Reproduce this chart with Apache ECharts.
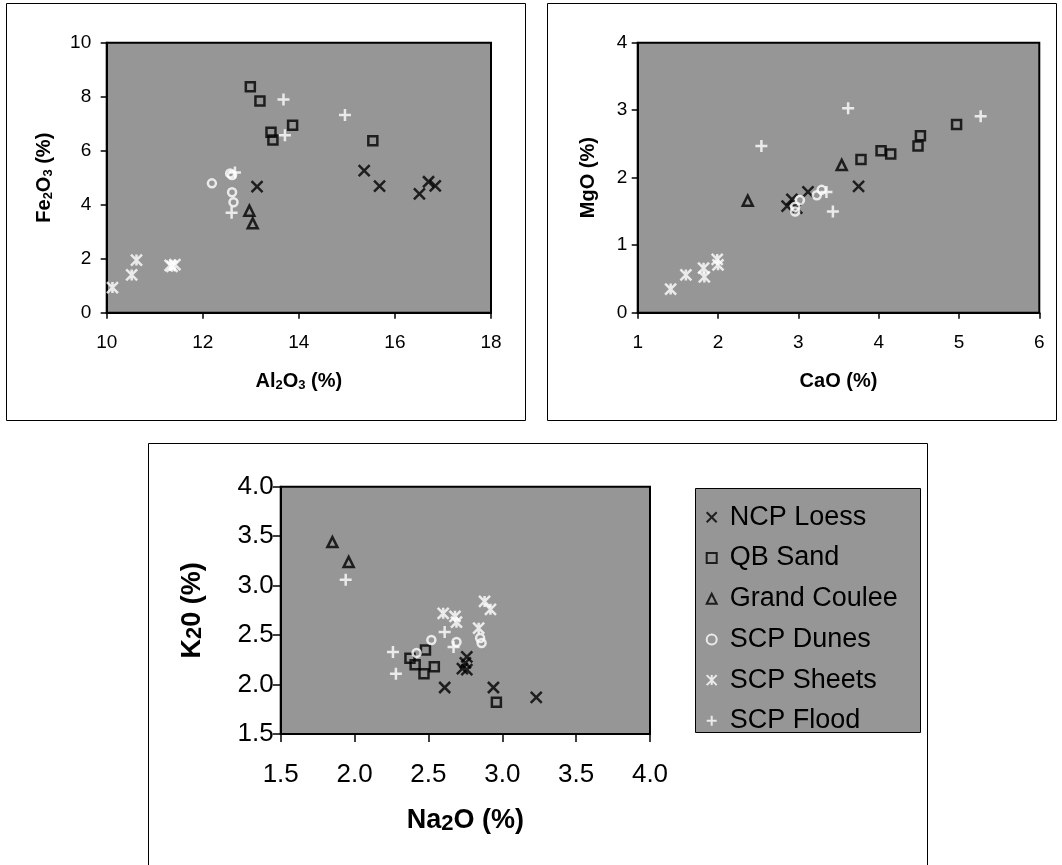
<!DOCTYPE html>
<html><head><meta charset="utf-8">
<script src="https://cdn.jsdelivr.net/npm/echarts@6/dist/echarts.min.js"></script>
<style>html,body{margin:0;padding:0;background:#fff}#c{width:1062px;height:865px}</style>
</head><body><div id="c"></div>
<script>
const seriesNames = ['NCP Loess','QB Sand','Grand Coulee','SCP Dunes','SCP Sheets','SCP Flood'];

// Tick values
const alTicks = [10,12,14,16,18];
const feTicks = [0,2,4,6,8,10];
const caTicks = [1,2,3,4,5,6];
const mgTicks = [0,1,2,3,4];
const naTicks = [1.5,2.0,2.5,3.0,3.5,4.0];
const kTicks  = [1.5,2.0,2.5,3.0,3.5,4.0];

// Plot 1: Al2O3 (x) vs Fe2O3 (y)
const alFe_NCP    = [[13.13,4.67],[15.36,5.26],[15.68,4.69],[16.51,4.40],[16.70,4.85],[16.84,4.70]];
const alFe_QB     = [[12.99,8.37],[13.19,7.84],[13.42,6.68],[13.46,6.40],[13.87,6.94],[15.54,6.37]];
const alFe_GC     = [[12.97,3.78],[13.04,3.31]];
const alFe_Dunes  = [[12.19,4.79],[12.57,5.16],[12.61,5.10],[12.61,4.46],[12.64,4.09]];
const alFe_Sheets = [[10.12,0.93],[10.52,1.40],[10.62,1.95],[11.32,1.75],[11.42,1.78],[11.36,1.72]];
const alFe_Flood  = [[13.68,7.90],[14.96,7.32],[13.71,6.57],[12.67,5.19],[12.60,3.70]];

// Plot 2: CaO (x) vs MgO (y)
const caMg_NCP    = [[2.86,1.58],[2.92,1.68],[2.98,1.55],[3.12,1.79],[3.75,1.87]];
const caMg_QB     = [[3.78,2.27],[4.03,2.40],[4.15,2.35],[4.49,2.47],[4.52,2.62],[4.97,2.79]];
const caMg_GC     = [[2.37,1.66],[3.54,2.19]];
const caMg_Dunes  = [[2.96,1.57],[2.96,1.50],[3.02,1.67],[3.23,1.74],[3.29,1.82]];
const caMg_Sheets = [[1.41,0.35],[1.60,0.56],[1.82,0.66],[1.83,0.53],[1.99,0.79],[2.00,0.71]];
const caMg_Flood  = [[2.54,2.47],[3.62,3.03],[5.27,2.91],[3.43,1.50],[3.35,1.79]];

// Plot 3: Na2O (x) vs K2O (y)
const naK_NCP    = [[2.61,1.97],[2.94,1.97],[3.23,1.87],[2.76,2.28],[2.75,2.22],[2.73,2.16],[2.76,2.15]];
const naK_QB     = [[2.375,2.265],[2.41,2.20],[2.47,2.11],[2.54,2.18],[2.48,2.35],[2.96,1.82]];
const naK_GC     = [[1.85,3.44],[1.96,3.24]];
const naK_Dunes  = [[2.42,2.32],[2.52,2.45],[2.69,2.43],[2.85,2.47],[2.86,2.42]];
const naK_Sheets = [[2.60,2.72],[2.68,2.69],[2.69,2.63],[2.84,2.57],[2.88,2.84],[2.92,2.76]];
const naK_Flood  = [[1.94,3.06],[2.26,2.33],[2.28,2.11],[2.61,2.53],[2.67,2.38]];

const plotData = [
  [alFe_NCP, alFe_QB, alFe_GC, alFe_Dunes, alFe_Sheets, alFe_Flood],
  [caMg_NCP, caMg_QB, caMg_GC, caMg_Dunes, caMg_Sheets, caMg_Flood],
  [naK_NCP, naK_QB, naK_GC, naK_Dunes, naK_Sheets, naK_Flood]
];

const FONT = '"Liberation Sans", Arial, sans-serif';
const GREY = '#969696';

const marker = {
  'NCP Loess':   {symbol:'path://M0 0L10 10M10 0L0 10', size:11, color:'#000'},
  'QB Sand':     {symbol:'path://M0 0H10V10H0Z', size:9, color:'#000'},
  'Grand Coulee':{symbol:'path://M5 0L10 10H0Z', size:10, color:'#000'},
  'SCP Dunes':   {symbol:'circle', size:8, color:'#fff'},
  'SCP Sheets':  {symbol:'path://M0 0L10 10M10 0L0 10M5 0L5 10', size:11, color:'#fff'},
  'SCP Flood':   {symbol:'path://M5 0L5 10M0 5L10 5', size:12, color:'#fff'}
};

const series = [];
plotData.forEach((sets, gi) => {
  sets.forEach((d, si) => {
    const n = seriesNames[si], m = marker[n];
    series.push({
      type:'scatter', name:n, xAxisIndex:gi, yAxisIndex:gi, data:d,
      symbol:m.symbol, symbolSize:m.size, silent:true,
      itemStyle:{color:'rgba(0,0,0,0)', borderColor:m.color, borderWidth:2.5},
      emphasis:{disabled:true}
    });
  });
});

function ax(gi, ticks, margin, nameGap, name, fs, nfs, tickLen, fmt){
  return {
    type:'value', gridIndex:gi, min:ticks[0], max:ticks[ticks.length-1], interval:ticks[1]-ticks[0],
    axisLine:{show:true, onZero:false, lineStyle:{color:'#000', width:2}},
    axisTick:{show:true, length:tickLen, lineStyle:{color:'#000', width:1.5}},
    axisLabel:{color:'#000', fontSize:fs, fontFamily:FONT, margin:margin, formatter:fmt},
    splitLine:{show:false},
    name:name, nameLocation:'middle', nameGap:nameGap,
    nameTextStyle:{color:'#000', fontSize:nfs, fontWeight:'bold', fontFamily:FONT,
      rich:{s:{fontSize:Math.round(nfs*0.65), fontWeight:'bold', fontFamily:FONT, color:'#000', verticalAlign:'bottom'},
            t:{fontSize:Math.round(nfs*0.8), fontWeight:'bold', fontFamily:FONT, color:'#000', verticalAlign:'bottom'},
            b:{fontSize:nfs, fontWeight:'bold', fontFamily:FONT, color:'#000', verticalAlign:'bottom'}}}
  };
}

const f1 = v => String(v);
const f2 = v => v.toFixed(1);

const option = {
  animation:false,
  textStyle:{fontFamily:FONT},
  graphic:[
    {type:'rect', shape:{x:6.5, y:3.5, width:519, height:417}, style:{fill:'none', stroke:'#000', lineWidth:1}, z:-1},
    {type:'rect', shape:{x:547.5, y:3.5, width:509, height:417}, style:{fill:'none', stroke:'#000', lineWidth:1}, z:-1},
    {type:'rect', shape:{x:148.5, y:443.5, width:779, height:440}, style:{fill:'none', stroke:'#000', lineWidth:1}, z:-1},
    {type:'rect', shape:{x:695.5, y:488.5, width:225, height:244}, style:{fill:GREY, stroke:'#000', lineWidth:1}, z:1}
  ],
  grid:[
    {left:106.7, top:42.7, width:384.3, height:270, show:true, backgroundColor:GREY, borderColor:'#000', borderWidth:2},
    {left:637.7, top:42.7, width:401.6, height:270, show:true, backgroundColor:GREY, borderColor:'#000', borderWidth:2},
    {left:280.7, top:486.7, width:369.3, height:247.3, show:true, backgroundColor:GREY, borderColor:'#000', borderWidth:2}
  ],
  xAxis:[
    ax(0, alTicks, 20.5, 58.8, '{b|Al}{s|2}{b|O}{s|3}{b| (%)}', 19, 20, 6, f1),
    ax(1, caTicks, 20.5, 58.8, '{b|CaO (%)}', 19, 20, 6, f1),
    ax(2, naTicks, 27.5, 73.5, '{b|Na}{t|2}{b|O (%)}', 26, 27, 8, f2)
  ],
  yAxis:[
    ax(0, feTicks, 15.5, 52, '{b|Fe}{s|2}{b|O}{s|3}{b| (%)}', 19, 20, 6, f1),
    ax(1, mgTicks, 10.5, 39.7, '{b|MgO (%)}', 19, 20, 6, f1),
    ax(2, kTicks, 7, 74.7, '{b|K}{t|2}{b|0 (%)}', 26, 27, 8, f2)
  ],
  legend:{
    show:true, orient:'vertical', left:705.7, top:502.3, padding:0,
    itemWidth:26, itemHeight:10, itemGap:10.7, selectedMode:false, z:5,
    data: seriesNames.map(n => ({name:n, icon:marker[n].symbol})),
    textStyle:{color:'#000', fontSize:27, fontFamily:FONT, lineHeight:30}
  },
  series: series
};

const chart = echarts.init(document.getElementById('c'), null, {renderer:'canvas'});
chart.setOption(option);
</script>
</body></html>
